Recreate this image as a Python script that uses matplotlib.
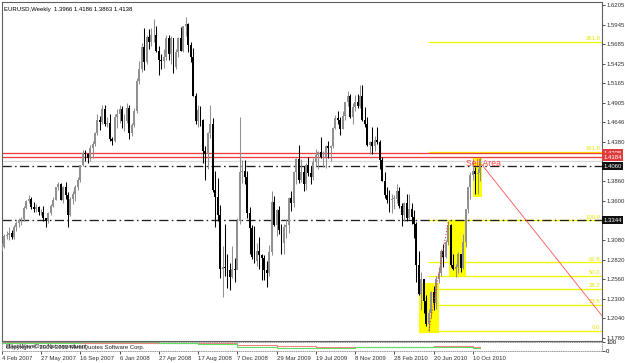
import matplotlib.pyplot as plt
import numpy as np

# EURUSD weekly, week 0 = 4 Feb 2007
first_open = 1.2960
closes = [
    1.2990, 1.3130, 1.3150, 1.3180, 1.3120, 1.3250, 1.3310, 1.3350, 1.3360, 1.3510,
    1.3600, 1.3630, 1.3520, 1.3500, 1.3520, 1.3450, 1.3460, 1.3370, 1.3330, 1.3440,
    1.3540, 1.3620, 1.3780, 1.3830, 1.3620, 1.3780, 1.3680, 1.3410, 1.3630, 1.3690,
    1.3780, 1.3880, 1.4080, 1.4240, 1.4220, 1.4170, 1.4300, 1.4360, 1.4500, 1.4680,
    1.4650, 1.4820, 1.4630, 1.4640, 1.4420, 1.4400, 1.4720, 1.4760, 1.4820, 1.4660,
    1.4670, 1.4830, 1.4500, 1.4610, 1.4800, 1.5190, 1.5350, 1.5650, 1.5450, 1.5780,
    1.5710, 1.5800, 1.5810, 1.5600, 1.5480, 1.5460, 1.5510, 1.5760, 1.5560, 1.5760,
    1.5380, 1.5580, 1.5770, 1.5600, 1.5920, 1.5950, 1.5680, 1.5510, 1.5000, 1.4660,
    1.4810, 1.4680, 1.4260, 1.4220, 1.4500, 1.4620, 1.3750, 1.3650, 1.3420, 1.2700,
    1.2720, 1.2710, 1.2680, 1.2590, 1.2700, 1.2690, 1.3330, 1.3980, 1.4000, 1.3920,
    1.3440, 1.3240, 1.2850, 1.2800, 1.2940, 1.2880, 1.2840, 1.2690, 1.2640, 1.2920,
    1.3590, 1.3280, 1.3480, 1.3210, 1.3040, 1.3260, 1.3280, 1.3640, 1.3580, 1.3990,
    1.4160, 1.3880, 1.3990, 1.3830, 1.4080, 1.3970, 1.3920, 1.4120, 1.4210, 1.4250,
    1.4180, 1.4190, 1.4330, 1.4310, 1.4330, 1.4570, 1.4710, 1.4680, 1.4560, 1.4730,
    1.4910, 1.5000, 1.4720, 1.4850, 1.4920, 1.4860, 1.5000, 1.4680, 1.4620, 1.4340,
    1.4380, 1.4330, 1.4410, 1.4390, 1.4140, 1.3870, 1.3680, 1.3620, 1.3610, 1.3630,
    1.3630, 1.3740, 1.3530, 1.3420, 1.3580, 1.3370, 1.3500, 1.3390, 1.3300, 1.2750,
    1.2360, 1.2560, 1.2270, 1.1970, 1.2110, 1.2390, 1.2240, 1.2560, 1.2640, 1.2940,
    1.2860, 1.3060, 1.3280, 1.2750, 1.2700, 1.2720, 1.2890, 1.2710, 1.3050, 1.3490,
    1.3790, 1.3950, 1.4000, 1.3960, 1.3966, 1.4138,
]
highs = [
    1.3040, 1.3160, 1.3200, 1.3260, 1.3220, 1.3280, 1.3330, 1.3380, 1.3390, 1.3530,
    1.3620, 1.3680, 1.3660, 1.3590, 1.3560, 1.3530, 1.3500, 1.3530, 1.3380, 1.3450,
    1.3560, 1.3650, 1.3790, 1.3850, 1.3840, 1.3800, 1.3850, 1.3720, 1.3650, 1.3740,
    1.3810, 1.3920, 1.4080, 1.4280, 1.4280, 1.4240, 1.4350, 1.4400, 1.4520, 1.4750,
    1.4730, 1.4870, 1.4880, 1.4720, 1.4760, 1.4450, 1.4750, 1.4820, 1.4880, 1.4860,
    1.4760, 1.4900, 1.4870, 1.4640, 1.4840, 1.5230, 1.5460, 1.5700, 1.5900, 1.5810,
    1.5890, 1.5900, 1.6020, 1.5930, 1.5660, 1.5560, 1.5620, 1.5800, 1.5810, 1.5790,
    1.5760, 1.5620, 1.5780, 1.5910, 1.5930, 1.6040, 1.5960, 1.5720, 1.5630, 1.5040,
    1.4880, 1.4860, 1.4690, 1.4330, 1.4520, 1.4870, 1.4700, 1.4000, 1.3900, 1.3550,
    1.3000, 1.3300, 1.2900, 1.2770, 1.3000, 1.2840, 1.3380, 1.4720, 1.4150, 1.4150,
    1.4000, 1.3520, 1.3280, 1.3270, 1.3040, 1.3120, 1.2900, 1.2880, 1.2800, 1.3010,
    1.3740, 1.3670, 1.3500, 1.3530, 1.3290, 1.3300, 1.3360, 1.3650, 1.3740, 1.4000,
    1.4170, 1.4340, 1.4160, 1.4070, 1.4110, 1.4190, 1.4060, 1.4170, 1.4290, 1.4260,
    1.4450, 1.4260, 1.4350, 1.4400, 1.4350, 1.4590, 1.4740, 1.4790, 1.4720, 1.4790,
    1.4920, 1.5060, 1.5020, 1.4900, 1.5010, 1.5020, 1.5140, 1.5140, 1.4850, 1.4720,
    1.4400, 1.4580, 1.4460, 1.4580, 1.4410, 1.4180, 1.3990, 1.3790, 1.3750, 1.3690,
    1.3680, 1.3820, 1.3780, 1.3570, 1.3590, 1.3690, 1.3690, 1.3570, 1.3480, 1.3320,
    1.2940, 1.2660, 1.2560, 1.2350, 1.2170, 1.2400, 1.2470, 1.2600, 1.2720, 1.2960,
    1.3030, 1.3080, 1.3334, 1.3300, 1.2900, 1.2760, 1.2920, 1.2900, 1.3160, 1.3500,
    1.3790, 1.3990, 1.4160, 1.4050, 1.4040, 1.4186,
]
lows = [
    1.2930, 1.2970, 1.3100, 1.3080, 1.3090, 1.3100, 1.3200, 1.3250, 1.3280, 1.3340,
    1.3490, 1.3570, 1.3500, 1.3460, 1.3460, 1.3410, 1.3410, 1.3330, 1.3260, 1.3310,
    1.3420, 1.3520, 1.3610, 1.3750, 1.3610, 1.3580, 1.3630, 1.3260, 1.3400, 1.3560,
    1.3600, 1.3750, 1.3850, 1.4060, 1.4130, 1.4100, 1.4130, 1.4170, 1.4330, 1.4480,
    1.4540, 1.4630, 1.4600, 1.4580, 1.4400, 1.4340, 1.4380, 1.4570, 1.4640, 1.4570,
    1.4530, 1.4640, 1.4430, 1.4460, 1.4580, 1.4770, 1.5160, 1.5320, 1.5340, 1.5420,
    1.5620, 1.5660, 1.5710, 1.5580, 1.5280, 1.5360, 1.5370, 1.5480, 1.5470, 1.5420,
    1.5300, 1.5360, 1.5510, 1.5590, 1.5580, 1.5790, 1.5580, 1.5450, 1.4990, 1.4620,
    1.4580, 1.4600, 1.4110, 1.3880, 1.4020, 1.4440, 1.3720, 1.3250, 1.3330, 1.2580,
    1.2330, 1.2600, 1.2450, 1.2420, 1.2580, 1.2520, 1.2700, 1.3290, 1.3840, 1.3820,
    1.3380, 1.2900, 1.2830, 1.2770, 1.2740, 1.2700, 1.2550, 1.2550, 1.2460, 1.2600,
    1.2880, 1.3270, 1.3130, 1.3160, 1.2900, 1.2900, 1.3110, 1.3170, 1.3470, 1.3520,
    1.3830, 1.3840, 1.3850, 1.3740, 1.3750, 1.3930, 1.3830, 1.3880, 1.4060, 1.4020,
    1.4170, 1.4050, 1.4040, 1.4170, 1.4130, 1.4300, 1.4560, 1.4630, 1.4480, 1.4560,
    1.4680, 1.4860, 1.4700, 1.4620, 1.4800, 1.4830, 1.4830, 1.4670, 1.4580, 1.4330,
    1.4220, 1.4230, 1.4260, 1.4360, 1.4030, 1.3860, 1.3640, 1.3580, 1.3450, 1.3440,
    1.3490, 1.3580, 1.3510, 1.3270, 1.3330, 1.3340, 1.3360, 1.3300, 1.3110, 1.2520,
    1.2350, 1.2150, 1.2110, 1.1940, 1.1876, 1.2040, 1.2150, 1.2160, 1.2510, 1.2600,
    1.2720, 1.2840, 1.3020, 1.2730, 1.2690, 1.2590, 1.2650, 1.2660, 1.2700, 1.2990,
    1.3440, 1.3630, 1.3880, 1.3690, 1.3700, 1.3863,
]

date_labels = ['4 Feb 2007', '27 May 2007', '16 Sep 2007', '6 Jan 2008', '27 Apr 2008',
               '17 Aug 2008', '7 Dec 2008', '29 Mar 2009', '19 Jul 2009', '8 Nov 2009',
               '28 Feb 2010', '20 Jun 2010', '10 Oct 2010']
date_weeks = [0, 16, 32, 48, 64, 80, 96, 112, 128, 144, 160, 176, 192]

price_ticks = [1.6205, 1.5945, 1.5685, 1.5425, 1.5165, 1.4905, 1.4646, 1.4380,
               1.3860, 1.3600, 1.3080, 1.2820, 1.2560, 1.2300, 1.2040, 1.1780]

# fibonacci from the June 2010 low to the August 2010 high
fib_low, fib_high = 1.1876, 1.3344
fib_levels = [0.0, 23.6, 38.2, 50.0, 61.8, 100.0, 161.8, 261.8]
fib_start = 174

# horizontal levels
red_levels = [1.4235, 1.4184]
grey_level = 1.4132
dashdot_levels = [1.4060, 1.3344]

# zones (week from, week to, price low, price high)
zones = [(170.1, 178.2, 1.1846, 1.2511),
         (182.3, 189.2, 1.2591, 1.3335),
         (192.0, 195.7, 1.3654, 1.4172)]

trend_wk = [195.6, 244.6]
trend_px = [1.4085, 1.2075]
dotted_wk = [174, 182]
dotted_px = [1.1876, 1.3334]

# indicator sub window
ind_weeks = [0, 16, 32, 48, 64, 80, 96, 112, 128, 144, 160, 176, 192, 195]
ind_red = [95, 95, 92, 90, 88, 85, 70, 60, 50, 45, 48, 55, 40, 30]
ind_green = [88, 92, 95, 95, 90, 80, 50, 30, 35, 40, 45, 50, 35, 30]

FONT = 'Liberation Sans'
FS = 4.3
HLW = 0.95

W, H = 625, 363
fig = plt.figure(figsize=(W / 100, H / 100), dpi=100)
fig.patch.set_facecolor('white')

ax = fig.add_axes([2 / W, 1 - 341 / H, 600 / W, 339 / H])
ax.set_xlim(0.12, 244.6)
ax.set_ylim(1.1740, 1.6245)

c = np.array(closes)
o = np.concatenate([[first_open], c[:-1]])
hi = np.array(highs)
lo = np.array(lows)
wk = np.arange(len(c))

# zones behind candles
for x0, x1, p0, p1 in zones:
    ax.add_patch(plt.Rectangle((x0, p0), x1 - x0, p1 - p0, color='#ffff00', lw=0, zorder=1))

up = c >= o
cols = np.where(up, '#909090', '#000000')
ax.vlines(wk, lo, hi, colors=cols, lw=0.75, zorder=3)
body = np.maximum(np.abs(c - o), 0.0008)
ax.bar(wk, body, bottom=np.minimum(o, c), width=0.8, color=cols, lw=0, zorder=3)

# fib lines
rng = fib_high - fib_low
for f in fib_levels:
    p = fib_low + f / 100 * rng
    ax.plot([fib_start, 244.6], [p, p], color='#f5f500', lw=HLW, zorder=2, snap=True)
    ax.text(244.0, p + 0.001, '%.1f' % f, color='#e6e600', fontsize=FS, family=FONT,
            ha='right', va='bottom', zorder=4)

for p in red_levels:
    ax.axhline(p, color='#f03c3c', lw=HLW, zorder=2, snap=True)
ax.axhline(grey_level, color='#d8d8d8', lw=HLW, zorder=2, snap=True)
for p in dashdot_levels:
    ax.axhline(p, color='#202020', lw=HLW, ls=(0, (7, 2.5, 1.2, 2.5)), zorder=2, snap=True)

ax.plot(trend_wk, trend_px, color='#ff5050', lw=0.6, zorder=4)
ax.plot(dotted_wk, dotted_px, color='#ff3030', lw=0.8, ls=':', zorder=4)

ax.text(189.2, 1.4095, 'Sell Area', color='#ff4040', fontsize=6.2, family=FONT,
        va='center', ha='left', zorder=5)

ax.text(0.004, 0.985, 'EURUSD,Weekly  1.3966 1.4186 1.3863 1.4138', transform=ax.transAxes,
        fontsize=FS, family=FONT, va='top', ha='left', color='black')

# right price axis
ax.yaxis.tick_right()
ax.set_yticks(price_ticks)
ax.set_yticklabels(['%.4f' % p for p in price_ticks])
ax.tick_params(axis='y', length=2.5, width=0.6, pad=1, labelsize=FS, colors='#303030')
for lbl in ax.get_yticklabels():
    lbl.set_family(FONT)
ax.set_xticks([])

box_levels = [(1.4235, '#e03c3c'), (1.4184, '#e03c3c'), (1.4060, '#101010'), (1.3344, '#101010')]
for p, fc in box_levels:
    ax.text(1.002, p, '%.4f' % p, transform=ax.get_yaxis_transform(), fontsize=FS,
            family=FONT, color='white', va='center', ha='left', clip_on=False,
            bbox=dict(boxstyle='square,pad=0.25', fc=fc, ec='none'))

for s in ax.spines.values():
    s.set_color('#606060')
    s.set_linewidth(0.8)

# indicator window
ax2 = fig.add_axes([2 / W, 12 / H, 600 / W, 9 / H])
ax2.set_xlim(0.12, 244.6)
ax2.set_ylim(0, 100)
ax2.step(ind_weeks, ind_red, where='post', color='#f08080', lw=0.8)
ax2.step(ind_weeks, ind_green, where='post', color='#60e060', lw=0.8)
ax2.text(1.5, 45, 'ElliottWaveOsc.Net.anyadueni', fontsize=FS, family=FONT, va='center', color='#202020')
ax2.text(1.5, 45, 'Copyright \u00a9 2001-2010 MetaQuotes Software Corp.', fontsize=FS,
         family=FONT, va='center', color='#202020')
for s in ax2.spines.values():
    s.set_color('#909090')
    s.set_linewidth(0.6)
    s.set_linestyle(':')
ax2.yaxis.tick_right()
ax2.set_yticks([100, 0])
ax2.set_yticklabels(['100', '0'])
ax2.tick_params(axis='y', length=2, width=0.5, pad=1, labelsize=FS)
ax2.set_xticks(date_weeks)
ax2.set_xticklabels(date_labels)
ax2.tick_params(axis='x', length=2.5, width=0.6, pad=1.2, labelsize=FS, colors='#303030')
for lbl in ax2.get_xticklabels() + ax2.get_yticklabels():
    lbl.set_family(FONT)
for lbl in ax2.get_xticklabels():
    lbl.set_ha('left')

fig.savefig('out.png', dpi=100)
